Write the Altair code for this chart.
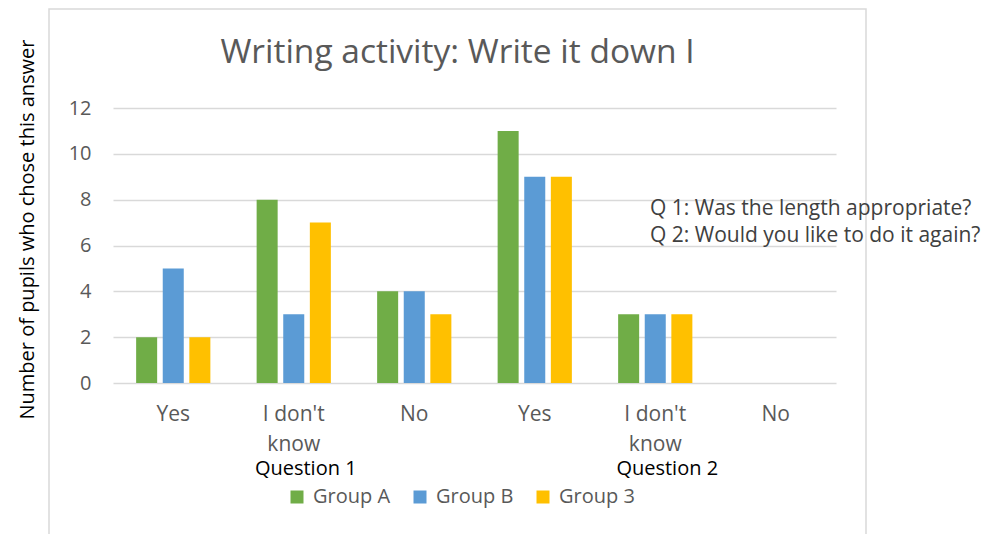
import altair as alt
import pandas as pd

# ---- data ----
questions = ["Question 1", "Question 1", "Question 1", "Question 2", "Question 2", "Question 2"]
answers = ["Yes", "I don't know", "No", "Yes", "I don't know", "No"]
groups = ["Group A", "Group B", "Group 3"]
group_a = [2, 8, 4, 11, 3, 0]
group_b = [5, 3, 4, 9, 3, 0]
group_3 = [2, 7, 3, 9, 3, 0]
colors = ["#70AD47", "#5B9BD5", "#FFC000"]
y_ticks = [0, 2, 4, 6, 8, 10, 12]

title_text = "Writing activity: Write it down I"
y_title = "Number of pupils who chose this answer"
notes = ["Q 1: Was the length appropriate?", "Q 2: Would you like to do it again?"]
question_labels = ["Question 1", "Question 2"]

FONT = "Open Sans"

keys = [f"{q}|{a}" for q, a in zip(questions, answers)]
rows = []
for i, k in enumerate(keys):
    for g, vals in zip(groups, [group_a, group_b, group_3]):
        rows.append({"key": k, "group": g, "value": vals[i]})
df = pd.DataFrame(rows)

W, H = 723, 275

x_axis = alt.Axis(
    title=None,
    labelExpr="split(replace(split(datum.value, '|')[1], \"don't \", \"don't|\"), '|')",
    labelAngle=0,
    labelFont=FONT,
    labelFontSize=21,
    labelColor="#595959",
    labelPadding=20,
    labelLineHeight=30,
    labelOverlap=False,
    ticks=False,
    domain=False,
    grid=False,
)
x_scale = alt.Scale(paddingInner=0.384, paddingOuter=0.192)


def x_enc():
    return alt.X("key:N", sort=keys, scale=x_scale, axis=x_axis)


bars = alt.Chart(df).mark_bar().encode(
    x=x_enc(),
    xOffset=alt.XOffset("group:N", sort=groups, scale=alt.Scale(paddingInner=0.21, paddingOuter=0)),
    y=alt.Y(
        "value:Q",
        scale=alt.Scale(domain=[0, 12]),
        axis=alt.Axis(
            values=y_ticks,
            title=y_title,
            titleFont=FONT,
            titleFontSize=20,
            titleFontWeight="normal",
            titleColor="#000000",
            titleX=-80,
            titleY=121,
            titleAngle=-90,
            titleAlign="center",
            titleBaseline="alphabetic",
            labelFont=FONT,
            labelFontSize=20,
            labelColor="#595959",
            labelPadding=22,
            ticks=False,
            domain=False,
            gridColor="#D9D9D9",
            gridWidth=1.5,
        ),
    ),
    color=alt.Color(
        "group:N",
        sort=groups,
        scale=alt.Scale(domain=groups, range=colors),
        legend=alt.Legend(
            title=None,
            orient="none",
            direction="horizontal",
            legendX=174,
            legendY=379,
            symbolType="square",
            symbolSize=169,
            symbolStrokeWidth=0,
            symbolOpacity=1,
            labelFont=FONT,
            labelFontSize=20,
            labelColor="#595959",
            labelOffset=6,
            columnPadding=19,
        ),
    ),
)

title_df = pd.DataFrame({"t": [title_text]})
title = alt.Chart(title_df).mark_text(
    font=FONT, fontSize=33.5, color="#595959", baseline="alphabetic", align="center"
).encode(x=alt.value(344.5), y=alt.value(-45), text="t:N")

notes_df = pd.DataFrame({"t": ["\n".join(notes)]})
note_marks = alt.Chart(notes_df).mark_text(
    font=FONT, fontSize=21, color="#404040", align="left", baseline="alphabetic",
    lineBreak="\n", lineHeight=27,
).encode(x=alt.value(537), y=alt.value(107), text="t:N")

q_df = pd.DataFrame({"t": question_labels, "key": [keys[1], keys[4]]})
q_marks = alt.Chart(q_df).mark_text(
    font=FONT, fontSize=20, color="#000000", align="center", baseline="alphabetic", dx=12
).encode(x=x_enc(), y=alt.value(367), text="t:N")

border_df = pd.DataFrame({"b": [1]})
border = alt.Chart(border_df).mark_rect(
    fill=None, stroke="#D9D9D9", strokeWidth=1.5
).encode(
    x=alt.value(-64), x2=alt.value(753), y=alt.value(-99), y2=alt.value(450)
)

chart = alt.layer(border, bars, title, note_marks, q_marks).properties(
    width=W,
    height=H,
    padding={"left": 113, "top": 108, "right": 150, "bottom": 151},
    autosize=alt.AutoSizeParams(type="none"),
    background="white",
).configure_view(stroke=None)

chart.save("out.html", embed_options={"renderer": "svg", "actions": False})
